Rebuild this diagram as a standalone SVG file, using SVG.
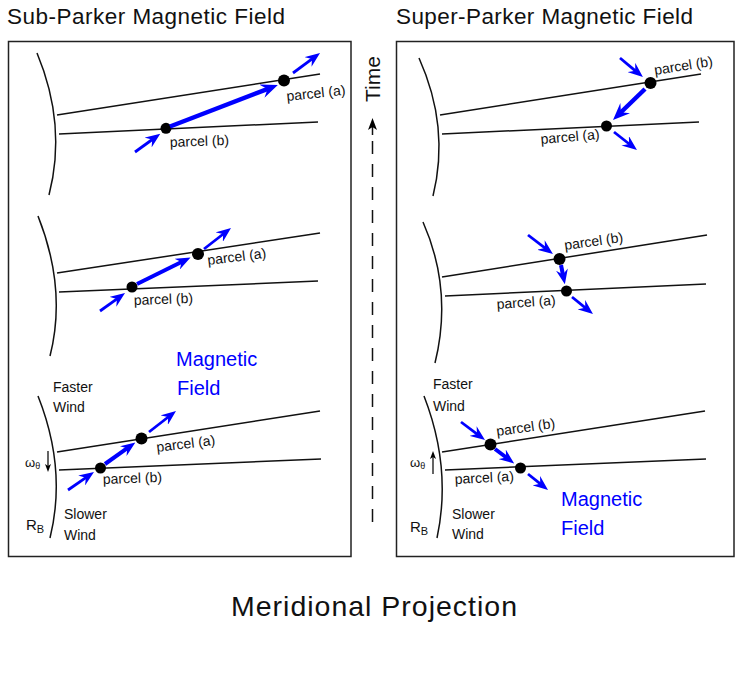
<svg xmlns="http://www.w3.org/2000/svg" width="747" height="678" viewBox="0 0 747 678">
<defs>
<marker id="ah" markerUnits="userSpaceOnUse" viewBox="0 0 15 12" markerWidth="15" markerHeight="12" refX="6" refY="6" orient="auto">
<path d="M0,0 L15,6 L0,12 L5,6 z" fill="#0000ff"/>
</marker>
<marker id="ahb" markerUnits="userSpaceOnUse" viewBox="0 0 17 14" markerWidth="17" markerHeight="14" refX="7" refY="7" orient="auto">
<path d="M0,0 L17,7 L0,14 L6,7 z" fill="#0000ff"/>
</marker>
<marker id="tah" markerUnits="userSpaceOnUse" viewBox="0 0 12 9" markerWidth="12" markerHeight="9" refX="4" refY="4.5" orient="auto">
<path d="M0,0 L12,4.5 L0,9 L3,4.5 z" fill="#000"/>
</marker>
<marker id="wah" markerUnits="userSpaceOnUse" viewBox="0 0 8 6" markerWidth="8" markerHeight="6" refX="3" refY="3" orient="auto">
<path d="M0,0 L8,3 L0,6 L2,3 z" fill="#000"/>
</marker>
</defs>
<style>
text{font-family:"Liberation Sans",Arial,sans-serif;fill:#111}
.title{font-size:22.5px}
.lbl{font-size:14px}
.wind{font-size:14px}
.mag{font-size:20px;fill:#0000ff}
.panel{fill:none;stroke:#222;stroke-width:1.5}
.arc{fill:none;stroke:#111;stroke-width:1.5}
.fl{fill:none;stroke:#111;stroke-width:1.5}
.a{stroke:#0000ff;stroke-width:2.8;fill:none;marker-end:url(#ah)}
.ab{stroke:#0000ff;stroke-width:4;fill:none;marker-end:url(#ah)}
.abig{stroke:#0000ff;stroke-width:4.5;fill:none;marker-end:url(#ahb)}
.dot{fill:#000}
</style>
<rect width="747" height="678" fill="#fff"/>

<text class="title" x="7" y="24" textLength="278">Sub-Parker Magnetic Field</text>
<text class="title" x="396" y="24" textLength="297">Super-Parker Magnetic Field</text>

<g id="panel-sub">
<rect class="panel" x="8.5" y="41.5" width="342.5" height="515"/>
</g>
<g id="panel-super">
<rect class="panel" x="396.5" y="41.5" width="337.5" height="515"/>
</g>

<g id="time">
<line x1="372.5" y1="522" x2="372.5" y2="137" stroke="#111" stroke-width="1.5" stroke-dasharray="13 10"/>
<line x1="372.5" y1="135" x2="372.5" y2="126" stroke="#111" stroke-width="1.5" marker-end="url(#tah)"/>
<text x="380" y="102" font-size="21" transform="rotate(-90 380 102)">Time</text>
</g>

<!-- Sub-Parker top -->
<g id="sub-t1">
<path class="arc" d="M37,53 Q67,125 49,195"/>
<line class="fl" x1="57" y1="115" x2="320" y2="74"/>
<line class="fl" x1="59" y1="134" x2="318" y2="122"/>
<circle class="dot" cx="284" cy="80.5" r="6"/>
<circle class="dot" cx="166" cy="128.3" r="5.5"/>
<text class="lbl" x="287" y="101" transform="rotate(-6 287 101)">parcel (a)</text>
<text class="lbl" x="170" y="147" transform="rotate(-2 170 147)">parcel (b)</text>
</g>
<!-- Sub-Parker middle -->
<g id="sub-t2">
<path class="arc" d="M38,216 Q67,289 50,356"/>
<line class="fl" x1="57" y1="273" x2="320" y2="233"/>
<line class="fl" x1="59" y1="292" x2="318" y2="281"/>
<circle class="dot" cx="198" cy="254" r="6"/>
<circle class="dot" cx="132" cy="287" r="5.5"/>
<text class="lbl" x="208" y="265" transform="rotate(-7 208 265)">parcel (a)</text>
<text class="lbl" x="134" y="305" transform="rotate(-2 134 305)">parcel (b)</text>
<text class="mag" x="176" y="366">Magnetic</text>
<text class="mag" x="177" y="395">Field</text>
</g>
<!-- Sub-Parker bottom -->
<g id="sub-t3">
<path class="arc" d="M38,396 Q67,469 50,538"/>
<line class="fl" x1="57" y1="452" x2="320" y2="411"/>
<line class="fl" x1="59" y1="470" x2="321" y2="459"/>
<circle class="dot" cx="141.5" cy="438.5" r="6"/>
<circle class="dot" cx="100.5" cy="468" r="5.5"/>
<text class="lbl" x="157" y="452" transform="rotate(-7 157 452)">parcel (a)</text>
<text class="lbl" x="103" y="484" transform="rotate(-2 103 484)">parcel (b)</text>
<text class="wind" x="53" y="392">Faster</text>
<text class="wind" x="53" y="412">Wind</text>
<text class="wind" x="64" y="519">Slower</text>
<text class="wind" x="64" y="540">Wind</text>
<text x="25" y="467" font-size="13">ω<tspan font-size="9" dy="2">θ</tspan></text>
<line x1="48" y1="451" x2="48" y2="467" stroke="#111" stroke-width="1.3" marker-end="url(#wah)"/>
<text x="26" y="530" font-size="15">R<tspan font-size="11" dy="3">B</tspan></text>
</g>

<!-- Super-Parker top -->
<g id="super-t1">
<path class="arc" d="M419,58 Q450,127 433,196"/>
<line class="fl" x1="440" y1="115" x2="701" y2="74"/>
<line class="fl" x1="442" y1="134" x2="699" y2="122"/>
<circle class="dot" cx="650.5" cy="83" r="6"/>
<circle class="dot" cx="606.5" cy="126" r="5.5"/>
<text class="lbl" x="655" y="75" transform="rotate(-9 655 75)">parcel (b)</text>
<text class="lbl" x="541" y="144" transform="rotate(-5 541 144)">parcel (a)</text>
</g>
<!-- Super-Parker middle -->
<g id="super-t2">
<path class="arc" d="M423,222 Q453,290 435,363"/>
<line class="fl" x1="442" y1="277" x2="707" y2="235"/>
<line class="fl" x1="445" y1="296" x2="706" y2="284"/>
<circle class="dot" cx="559.5" cy="259" r="6"/>
<circle class="dot" cx="566.5" cy="291" r="5.5"/>
<text class="lbl" x="565" y="250" transform="rotate(-8 565 250)">parcel (b)</text>
<text class="lbl" x="497" y="309" transform="rotate(-4 497 309)">parcel (a)</text>
</g>
<!-- Super-Parker bottom -->
<g id="super-t3">
<path class="arc" d="M424,396 Q452,468 437,538"/>
<line class="fl" x1="442" y1="452" x2="705" y2="411"/>
<line class="fl" x1="445" y1="470" x2="706" y2="459"/>
<circle class="dot" cx="490.5" cy="444.5" r="6"/>
<circle class="dot" cx="520.5" cy="468" r="5.5"/>
<text class="lbl" x="497" y="436" transform="rotate(-8 497 436)">parcel (b)</text>
<text class="lbl" x="455" y="484" transform="rotate(-3 455 484)">parcel (a)</text>
<text class="wind" x="433" y="389">Faster</text>
<text class="wind" x="433" y="411">Wind</text>
<text class="wind" x="452" y="519">Slower</text>
<text class="wind" x="452" y="539">Wind</text>
<text x="410" y="467" font-size="13">ω<tspan font-size="9" dy="2">θ</tspan></text>
<line x1="433" y1="474" x2="433" y2="456" stroke="#111" stroke-width="1.3" marker-end="url(#wah)"/>
<text x="410" y="532" font-size="15">R<tspan font-size="11" dy="3">B</tspan></text>
<text class="mag" x="561" y="506">Magnetic</text>
<text class="mag" x="561" y="535">Field</text>
</g>

<g id="connectors">
<!-- sub top -->
<line class="a" x1="135" y1="152" x2="153" y2="139"/>
<line class="abig" x1="170" y1="126.5" x2="268.5" y2="88.6"/>
<line class="a" x1="293" y1="73" x2="312.8" y2="58.4"/>
<!-- sub middle -->
<line class="a" x1="100" y1="311" x2="117.7" y2="298.3"/>
<line class="ab" x1="137" y1="284" x2="182.5" y2="261.5"/>
<line class="a" x1="204" y1="249" x2="223.9" y2="233.5"/>
<!-- sub bottom -->
<line class="a" x1="68" y1="490" x2="86.6" y2="477.1"/>
<line class="ab" x1="105" y1="464" x2="128" y2="447.7"/>
<line class="a" x1="149" y1="432" x2="168.9" y2="416.5"/>
<!-- super top -->
<line class="a" x1="620" y1="58" x2="636" y2="71.3"/>
<line class="abig" x1="645" y1="89" x2="620.2" y2="113"/>
<line class="a" x1="614" y1="132" x2="629.9" y2="144.5"/>
<!-- super middle -->
<line class="a" x1="528" y1="235" x2="545.8" y2="248.6"/>
<line class="ab" x1="561" y1="265" x2="563.1" y2="275.5"/>
<line class="a" x1="572" y1="297" x2="586" y2="308.4"/>
<!-- super bottom -->
<line class="a" x1="461" y1="422" x2="477.8" y2="434.6"/>
<line class="ab" x1="495" y1="449" x2="507" y2="458"/>
<line class="a" x1="528" y1="474" x2="541" y2="484.4"/>
</g>

<text x="374" y="616" font-size="28.5" text-anchor="middle" textLength="286">Meridional Projection</text>
</svg>
